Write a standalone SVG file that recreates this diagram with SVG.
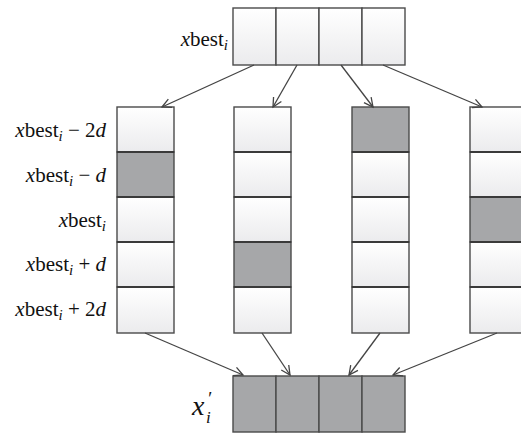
<svg xmlns="http://www.w3.org/2000/svg" width="521" height="433" viewBox="0 0 521 433">
<defs>
<linearGradient id="wg" x1="0" y1="0" x2="0" y2="1">
<stop offset="0" stop-color="#ffffff"/>
<stop offset="1" stop-color="#ebebed"/>
</linearGradient>
<marker id="ah" markerWidth="12" markerHeight="12" refX="10" refY="6" orient="auto" markerUnits="userSpaceOnUse">
<path d="M1,1.5 L10,6 L1,10.5" fill="none" stroke="#444" stroke-width="1.3"/>
</marker>
<style>
.w{fill:url(#wg);stroke:#4a4a4a;stroke-width:1.4}
.g{fill:#a6a7a9;stroke:#4a4a4a;stroke-width:1.4}
.dv{stroke:#3a3a3a;stroke-width:2;fill:none}
.lb{font-size:21px;fill:#111}
.it{font-style:italic}
.sub{font-style:italic;font-size:15px}
.cn{stroke:#444;stroke-width:1.3;fill:none;marker-end:url(#ah)}
</style>
</defs>
<rect width="521" height="433" fill="#ffffff"/>
<g id="top">
<rect class="w" x="233" y="8" width="43" height="57"/>
<rect class="w" x="276" y="8" width="43" height="57"/>
<rect class="w" x="319" y="8" width="43" height="57"/>
<rect class="w" x="362" y="8" width="43" height="57"/>
<text class="lb" font-family="'Liberation Serif', 'DejaVu Serif', serif" x="228" y="46" text-anchor="end"><tspan class="it">x</tspan>best<tspan class="sub" dy="4">i</tspan></text>
</g>
<g id="col1">
<rect class="w" x="117" y="107" width="57" height="45"/>
<rect class="g" x="117" y="152" width="57" height="45"/>
<rect class="w" x="117" y="197" width="57" height="45"/>
<rect class="w" x="117" y="242" width="57" height="45"/>
<rect class="w" x="117" y="287" width="57" height="46"/>
<path class="dv" d="M117,152H174M117,197H174M117,242H174M117,287H174"/>
</g>
<g id="col2">
<rect class="w" x="234" y="107" width="57" height="45"/>
<rect class="w" x="234" y="152" width="57" height="45"/>
<rect class="w" x="234" y="197" width="57" height="45"/>
<rect class="g" x="234" y="242" width="57" height="45"/>
<rect class="w" x="234" y="287" width="57" height="46"/>
<path class="dv" d="M234,152H291M234,197H291M234,242H291M234,287H291"/>
</g>
<g id="col3">
<rect class="g" x="352" y="107" width="57" height="45"/>
<rect class="w" x="352" y="152" width="57" height="45"/>
<rect class="w" x="352" y="197" width="57" height="45"/>
<rect class="w" x="352" y="242" width="57" height="45"/>
<rect class="w" x="352" y="287" width="57" height="46"/>
<path class="dv" d="M352,152H409M352,197H409M352,242H409M352,287H409"/>
</g>
<g id="col4">
<rect class="w" x="470" y="107" width="57" height="45"/>
<rect class="w" x="470" y="152" width="57" height="45"/>
<rect class="g" x="470" y="197" width="57" height="45"/>
<rect class="w" x="470" y="242" width="57" height="45"/>
<rect class="w" x="470" y="287" width="57" height="46"/>
<path class="dv" d="M470,152H527M470,197H527M470,242H527M470,287H527"/>
</g>
<g id="labels" font-family="'Liberation Serif', 'DejaVu Serif', serif">
<text class="lb" x="106" y="137" text-anchor="end"><tspan class="it">x</tspan>best<tspan class="sub" dy="4">i</tspan><tspan dy="-4"> − 2</tspan><tspan class="it">d</tspan></text>
<text class="lb" x="106" y="182" text-anchor="end"><tspan class="it">x</tspan>best<tspan class="sub" dy="4">i</tspan><tspan dy="-4"> − </tspan><tspan class="it">d</tspan></text>
<text class="lb" x="106" y="227" text-anchor="end"><tspan class="it">x</tspan>best<tspan class="sub" dy="4">i</tspan></text>
<text class="lb" x="106" y="271" text-anchor="end"><tspan class="it">x</tspan>best<tspan class="sub" dy="4">i</tspan><tspan dy="-4"> + </tspan><tspan class="it">d</tspan></text>
<text class="lb" x="106" y="316" text-anchor="end"><tspan class="it">x</tspan>best<tspan class="sub" dy="4">i</tspan><tspan dy="-4"> + 2</tspan><tspan class="it">d</tspan></text>
</g>
<g id="bottom" font-family="'Liberation Serif', 'DejaVu Serif', serif">
<rect class="g" x="233" y="376" width="43" height="56"/>
<rect class="g" x="276" y="376" width="43" height="56"/>
<rect class="g" x="319" y="376" width="43" height="56"/>
<rect class="g" x="362" y="376" width="43" height="56"/>
<text x="192" y="415" font-size="28" font-style="italic" fill="#111">x</text>
<text x="207" y="405" font-size="19" font-style="italic" fill="#111">′</text>
<text x="206" y="423" font-size="17" font-style="italic" fill="#111">i</text>
</g>
<g id="connectors">
<line class="cn" x1="254" y1="65" x2="162" y2="107"/>
<line class="cn" x1="297" y1="65" x2="273" y2="107"/>
<line class="cn" x1="341" y1="65" x2="373" y2="107"/>
<line class="cn" x1="383" y1="65" x2="482" y2="107"/>
<line class="cn" x1="145" y1="333" x2="243" y2="375"/>
<line class="cn" x1="262" y1="333" x2="290" y2="375"/>
<line class="cn" x1="380" y1="333" x2="349" y2="375"/>
<line class="cn" x1="497" y1="333" x2="393" y2="375"/>
</g>
</svg>
